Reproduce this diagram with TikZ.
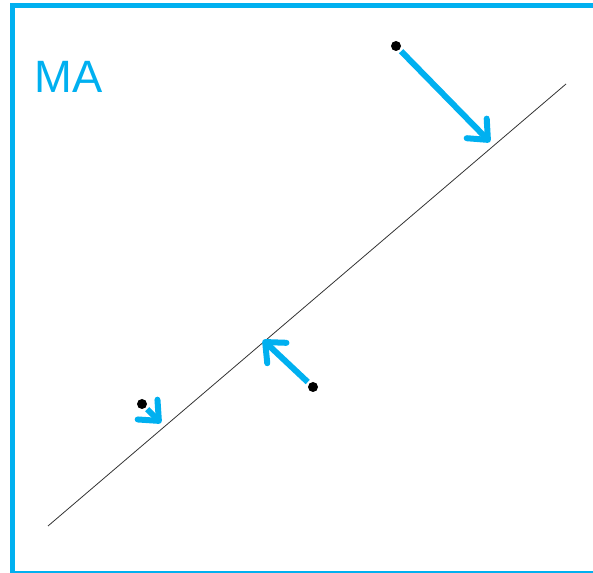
\documentclass[tikz,border=0pt]{standalone}
\usepackage{fontspec}
\setmainfont{Liberation Sans}
\usetikzlibrary{arrows.meta}
\definecolor{maBlue}{HTML}{00B0F0}

\tikzset{
  dot/.style={circle, fill=black, inner sep=0pt, minimum size=7.5pt},
  proj/.style={maBlue, line width=4.5pt, shorten <=1.5pt,
    -{Straight Barb[round,length=12pt,width=21pt]}},
}

\begin{document}
\begin{tikzpicture}[x=0.75pt,y=-0.75pt]
  \useasboundingbox (0,0) rectangle (593,573);
  \clip (0,0) rectangle (593,573);
  % frame, cut off at the right and bottom
  \draw[maBlue, line width=3.4pt] (12.5,5.5) rectangle (610,573.5);
  \node[maBlue, font=\fontsize{34}{34}\selectfont, anchor=base west] (title) at (30,93) {MA};
  % the line
  \coordinate (lineA) at (48,526);
  \coordinate (lineB) at (566,84);
  \draw[black!80, line width=0.6pt] (lineA) -- (lineB);
  % points and their arrows onto the line
  \node[dot] (p1) at (396,46) {};
  \node[dot] (p2) at (313,387) {};
  \node[dot] (p3) at (142,404) {};
  \coordinate (f1) at (490,142);
  \coordinate (f2) at (263,340);
  \coordinate (f3) at (161,423);
  \draw[proj] (p1) -- (f1);
  \draw[proj] (p2) -- (f2);
  \draw[proj] (p3) -- (f3);
\end{tikzpicture}
\end{document}
